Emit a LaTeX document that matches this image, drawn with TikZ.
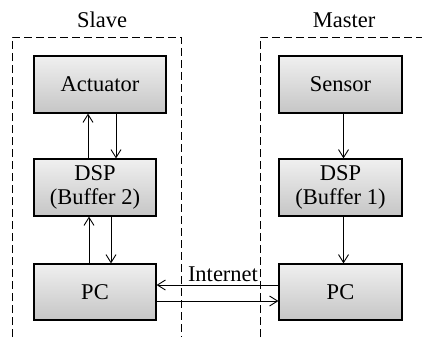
\documentclass[tikz,border=0pt]{standalone}
\usepackage{fontspec}
\setmainfont{Liberation Serif}
\usetikzlibrary{positioning, arrows.meta}

\begin{document}
\begin{tikzpicture}[x=1pt, y=-1pt,
        block/.style={draw, line width=1.2pt, top color=gray!12, bottom color=gray!45,
            align=center, inner sep=0pt, font=\fontsize{22.5}{24}\selectfont},
        link/.style={-{Straight Barb[length=8pt,width=10pt]}, line width=0.9pt},
        zone/.style={dash pattern=on 8pt off 4pt, line width=0.9pt},
        title/.style={font=\fontsize{22.5}{24}\selectfont}]
        \useasboundingbox (0,0) rectangle (422,337);

        % Draw zones
        \draw[zone] (12,337) |- (181,37) -- (181,337);
        \draw[zone] (260,337) |- (422,37);
        \node[title] (slave) at (102,20) {Slave};
        \node[title] (master) at (344,20) {Master};

        %slave blocks
        \node[block, minimum width=132pt, minimum height=57pt] (act) at (100,84.5) {Actuator};
        \node[block, minimum width=122pt, minimum height=57pt] (dspS) at (95,187.5) {DSP\\(Buffer 2)};
        \node[block, minimum width=122pt, minimum height=56pt] (pcS) at (95,292) {PC};

        %master blocks
        \node[block, minimum width=123pt, minimum height=57pt] (sens) at (340.5,84.5) {Sensor};
        \node[block, minimum width=123pt, minimum height=57pt] (dspM) at (340.5,187.5) {DSP\\(Buffer 1)};
        \node[block, minimum width=123pt, minimum height=56pt] (pcM) at (340.5,292) {PC};

        %slave links
        \draw[link] ([xshift=-7pt]dspS.north) -- ([xshift=-7pt]dspS.north |- act.south);
        \draw[link] ([xshift=21pt]dspS.north |- act.south) -- ([xshift=21pt]dspS.north);
        \draw[link] ([xshift=-6pt]pcS.north) -- ([xshift=-6pt]pcS.north |- dspS.south);
        \draw[link] ([xshift=16pt]pcS.north |- dspS.south) -- ([xshift=16pt]pcS.north);

        %master links
        \draw[link] ([xshift=3pt]sens.south) -- ([xshift=3pt]sens.south |- dspM.north);
        \draw[link] ([xshift=3pt]dspM.south) -- ([xshift=3pt]dspM.south |- pcM.north);

        %internet
        \draw[link] ([yshift=7pt]pcM.west) -- ([yshift=7pt]pcM.west -| pcS.east)
            node[pos=0.455, above, inner sep=3pt, font=\fontsize{22.5}{24}\selectfont] (net) {Internet};
        \draw[link] ([yshift=-9pt]pcS.east) -- ([yshift=-9pt]pcS.east -| pcM.west);
    \end{tikzpicture}
\end{document}
